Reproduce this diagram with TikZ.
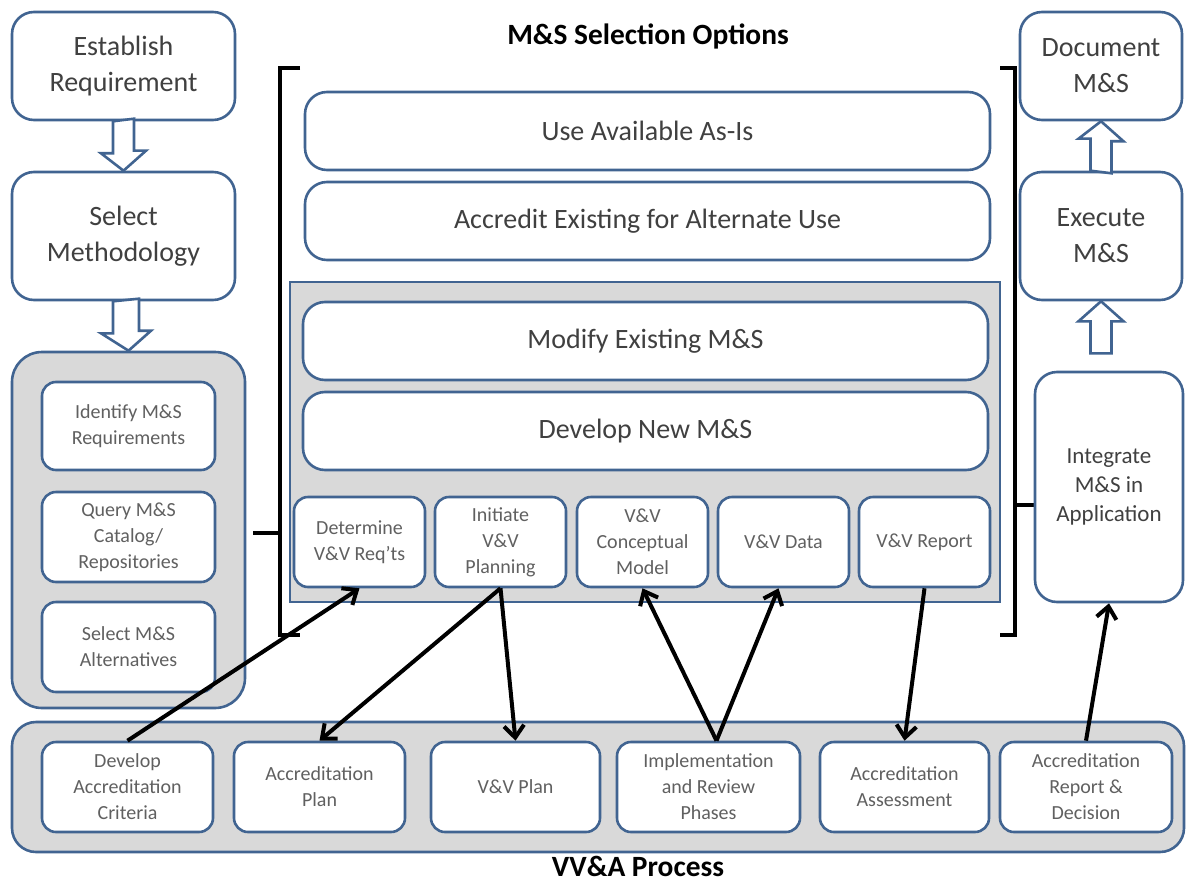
\documentclass[tikz,border=0pt]{standalone}
\usepackage{fontspec}
\setmainfont{Carlito}
\usetikzlibrary{arrows.meta,calc}

\begin{document}
\begin{tikzpicture}[x=0.5pt, y=-0.5pt,
    dims/.style 2 args={minimum width=#1*0.5pt, minimum height=#2*0.5pt},
    box/.style={
        draw=edgecolor,
        line width=1.3pt,
        fill=white,
        align=center,
        inner sep=2pt
      },
    bigbox/.style={box, rounded corners=11pt, text=textcolor, font=\fontsize{14}{18}\selectfont},
    smallbox/.style={box, rounded corners=7pt, text=lighttext, font=\fontsize{10}{13}\selectfont},
    group/.style={draw=edgecolor, line width=1.3pt, fill=groupcolor},
    hollow/.style={draw=edgecolor, line width=1.3pt, fill=white},
    brack/.style={line width=2pt},
    link/.style={line width=2pt, -{Straight Barb[length=6pt, width=10pt]}},
    heading/.style={font=\fontsize{14.7}{17}\selectfont\bfseries}]
    % Define colors
    \definecolor{edgecolor}{RGB}{65, 100, 145}
    \definecolor{groupcolor}{RGB}{217, 217, 217}
    \definecolor{textcolor}{RGB}{64, 64, 64}
    \definecolor{lighttext}{RGB}{96, 96, 96}

    \useasboundingbox (0,0) rectangle (1186,882);

    % left column
    \node[bigbox, dims={223}{108}] (est) at (123.5,66) {Establish\\Requirement};
    \node[bigbox, dims={223}{128}] (sel) at (123.5,236) {Select\\Methodology};
    \node[group, rounded corners=15pt, dims={233}{356}] (leftgrp) at (128.5,530) {};
    \node[smallbox, dims={173}{88}] (ident) at (128.5,426) {Identify M\&S\\Requirements};
    \node[smallbox, dims={173}{90}] (query) at (128.5,537) {Query M\&S\\Catalog/\\Repositories};
    \node[smallbox, dims={173}{90}] (alts) at (128.5,647) {Select M\&S\\Alternatives};

    \draw[hollow] ($(est.south)+(-10.5,0)$) -- ++(0,32) -- ++(-12,0) -- (sel.north)
        -- ++(22.5,-20) -- ++(-12,0) -- ++(0,-32) -- cycle;
    \draw[hollow] ($(sel.south)+(-10.5,0)$) -- ++(0,32) -- ++(-12,0) -- (leftgrp.north)
        -- ++(22.5,-20) -- ++(-12,0) -- ++(0,-32) -- cycle;

    % selection options
    \node[heading] (opttitle) at (648,36) {M\&S Selection Options};
    \node[bigbox, dims={685}{78}] (asis) at (647.5,131) {Use Available As-Is};
    \node[bigbox, dims={685}{78}] (altuse) at (647.5,221) {Accredit Existing for Alternate Use};
    \node[group, dims={710}{320}] (midgrp) at (645,442) {};
    \node[bigbox, dims={685}{78}] (modify) at (645.5,341) {Modify Existing M\&S};
    \node[bigbox, dims={685}{78}] (devnew) at (645.5,431) {Develop New M\&S};
    \node[smallbox, dims={131}{90}] (detvv) at (359.5,542) {Determine\\V\&V Req'ts};
    \node[smallbox, dims={131}{90}] (init) at (500.5,542) {Initiate\\V\&V\\Planning};
    \node[smallbox, dims={131}{90}] (concept) at (642.5,542) {V\&V\\Conceptual\\Model};
    \node[smallbox, dims={131}{90}] (data) at (783.5,542) {V\&V Data};
    \node[smallbox, dims={131}{90}] (vvrep) at (924.5,542) {V\&V Report};

    \draw[brack] (300,68) -- (280,68) -- (280,635) -- (300,635);
    \draw[brack] (280,533) -- (253,533);
    \draw[brack] (1000,68) -- (1015,68) -- (1015,635) -- (1000,635);
    \draw[brack] (1015,505) -- (1034,505);

    % right column
    \node[bigbox, dims={162}{108}] (doc) at (1101,66) {Document\\M\&S};
    \node[bigbox, dims={162}{128}] (exec) at (1101,236) {Execute\\M\&S};
    \node[bigbox, font=\fontsize{11.5}{14.3}\selectfont, dims={148}{230}] (integ) at (1109,487) {Integrate\\M\&S in\\Application};

    \draw[hollow] ($(exec.north)+(-10.5,0)$) -- ++(0,-32) -- ++(-12,0) -- (doc.south)
        -- ++(22.5,20) -- ++(-12,0) -- ++(0,32) -- cycle;
    \draw[hollow] ($(exec.south)+(-10.5,52)$) -- ++(0,-32) -- ++(-12,0) -- (exec.south)
        -- ++(22.5,20) -- ++(-12,0) -- ++(0,32) -- cycle;

    % VV&A process
    \node[group, rounded corners=12pt, dims={1172}{130}] (vvagrp) at (598,787) {};
    \node[smallbox, dims={171}{90}] (crit) at (127.5,787) {Develop\\Accreditation\\Criteria};
    \node[smallbox, dims={171}{90}] (aplan) at (319.5,787) {Accreditation\\Plan};
    \node[smallbox, dims={169}{90}] (vvplan) at (515.5,787) {V\&V Plan};
    \node[smallbox, dims={183}{90}] (impl) at (708.5,787) {Implementation\\and Review\\Phases};
    \node[smallbox, dims={169}{90}] (assess) at (904.5,787) {Accreditation\\Assessment};
    \node[smallbox, dims={172}{90}] (report) at (1086,787) {Accreditation\\Report \&\\Decision};
    \node[heading, inner sep=1pt] (vvatitle) at (638,866) {VV\&A Process};

    % links
    \draw[link] (crit.north) -- (detvv.south);
    \draw[link] (init.south) -- (aplan.north);
    \draw[link] (init.south) -- (vvplan.north);
    \draw[link] ($(impl.north)+(8,0)$) -- (concept.south);
    \draw[link] ($(impl.north)+(8,0)$) -- ($(data.south)+(-5,0)$);
    \draw[link] (vvrep.south) -- (assess.north);
    \draw[link] (report.north) -- (integ.south);
\end{tikzpicture}
\end{document}
